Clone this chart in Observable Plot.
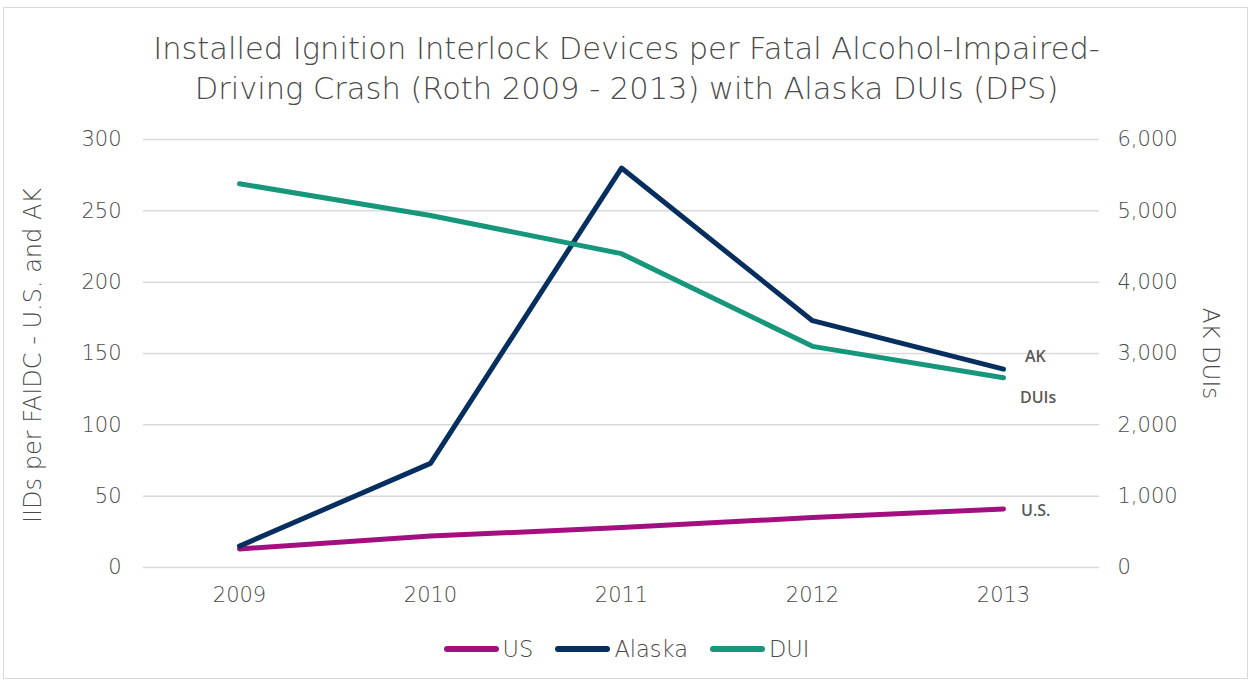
<!DOCTYPE html>
<html><head><meta charset="utf-8">
<script src="https://cdn.jsdelivr.net/npm/d3@7"></script>
<script src="https://cdn.jsdelivr.net/npm/@observablehq/plot@0.6"></script>
<style>
body{margin:0;background:#fff;font-family:"DejaVu Sans",sans-serif;color:#505050;}
#wrap{position:relative;width:1253px;height:683px;overflow:hidden;}
#border{position:absolute;left:3px;top:7px;width:1245px;height:672px;border:1px solid #d9d9d9;box-sizing:border-box;}
#title{position:absolute;left:0;top:29px;width:1253px;text-align:center;font-size:30.5px;font-weight:200;line-height:40px;color:#4a4a4a;}
#chart{position:absolute;left:0;top:125px;}
#legend{position:absolute;left:0;top:636px;width:1253px;display:flex;justify-content:center;font-size:22.5px;font-weight:200;color:#4a4a4a;}
.item{display:flex;align-items:center;margin:0 11px;}
.sw{width:55px;height:6px;border-radius:3px;margin-right:4px;}
.lbl{position:absolute;font-family:"Open Sans",sans-serif;font-weight:600;font-size:16px;color:#595959;}
</style></head>
<body><div id="wrap"><div id="border"></div>
<div id="title">Installed Ignition Interlock Devices per Fatal Alcohol-Impaired-<br>Driving Crash (Roth 2009 - 2013) with Alaska DUIs (DPS)</div>
<div id="chart"></div>
<div id="legend"></div>
</div>
<script>
const years = ["2009","2010","2011","2012","2013"];
const usValues = [13, 22, 28, 35, 41];
const alaskaValues = [15, 73, 280, 173, 139];
const duiValues = [5380, 4935, 4400, 3100, 2660];
const leftTicks = [0,50,100,150,200,250,300];
const rightTicks = [0,1000,2000,3000,4000,5000,6000];
const seriesNames = ["US","Alaska","DUI"];
const seriesColors = ["#a30f80","#062e5f","#16967a"];
const endLabels = ["U.S.","AK","DUIs"];

const ratio = 6000/300;
const rows = [];
years.forEach((y,i)=>{
  rows.push({year:y, series:"US", v:usValues[i]});
  rows.push({year:y, series:"Alaska", v:alaskaValues[i]});
  rows.push({year:y, series:"DUI", v:duiValues[i]/ratio});
});
const fmt = d3.format(",");
const chart = Plot.plot({
  width:1253, height:485,
  marginLeft:143, marginRight:154, marginTop:14, marginBottom:43,
  style:{fontFamily:"'DejaVu Sans', sans-serif", fontWeight:200, fontSize:"20px", color:"#4a4a4a", background:"transparent", overflow:"visible"},
  x:{type:"point", domain:years, padding:0.5, label:null},
  y:{domain:[0,300], label:null},
  color:{domain:seriesNames, range:seriesColors},
  marks:[
    Plot.gridY(leftTicks,{stroke:"#d9d9d9", strokeOpacity:1, strokeWidth:1.5}),
    Plot.axisY(leftTicks,{anchor:"left", tickSize:0, tickPadding:22, label:null, fontSize:21}),
    Plot.axisY(rightTicks.map(d=>d/ratio),{anchor:"right", tickSize:0, tickPadding:18, label:null, textAnchor:"start", tickFormat:d=>fmt(d*ratio), fontSize:21}),
    Plot.axisX(years,{tickSize:0, tickPadding:20, label:null, fontSize:21}),
    Plot.line(rows,{x:"year", y:"v", z:"series", stroke:"series", strokeWidth:5, strokeLinecap:"round", strokeLinejoin:"round"}),
    Plot.text(["IIDs per FAIDC - U.S. and AK"],{frameAnchor:"left", dx:-110, dy:2, rotate:-90, textAnchor:"middle", fontSize:24, fill:"#4a4a4a", text:d=>d}),
    Plot.text(["AK DUIs"],{frameAnchor:"right", dx:111, rotate:90, textAnchor:"middle", fontSize:23, fill:"#4a4a4a", text:d=>d})
  ]
});
document.getElementById("chart").appendChild(chart);

const leg = document.getElementById("legend");
seriesNames.forEach((n,i)=>{
  const it=document.createElement("div"); it.className="item";
  it.innerHTML=`<div class="sw" style="background:${seriesColors[i]}"></div><span>${n}</span>`;
  leg.appendChild(it);
});
const xs = chart.scale("x"), ys = chart.scale("y");
const lastI = years.length-1;
const endVals = [usValues[lastI], alaskaValues[lastI], duiValues[lastI]/ratio];
const offs = [[18,1],[22,-13],[17,20]];
const wrap=document.getElementById("wrap");
endLabels.forEach((t,i)=>{
  const d=document.createElement("div"); d.className="lbl"; d.textContent=t;
  d.style.left=(xs.apply(years[lastI])+offs[i][0])+"px";
  d.style.top=(125+ys.apply(endVals[i])+offs[i][1]-11)+"px";
  wrap.appendChild(d);
});
</script></body></html>
